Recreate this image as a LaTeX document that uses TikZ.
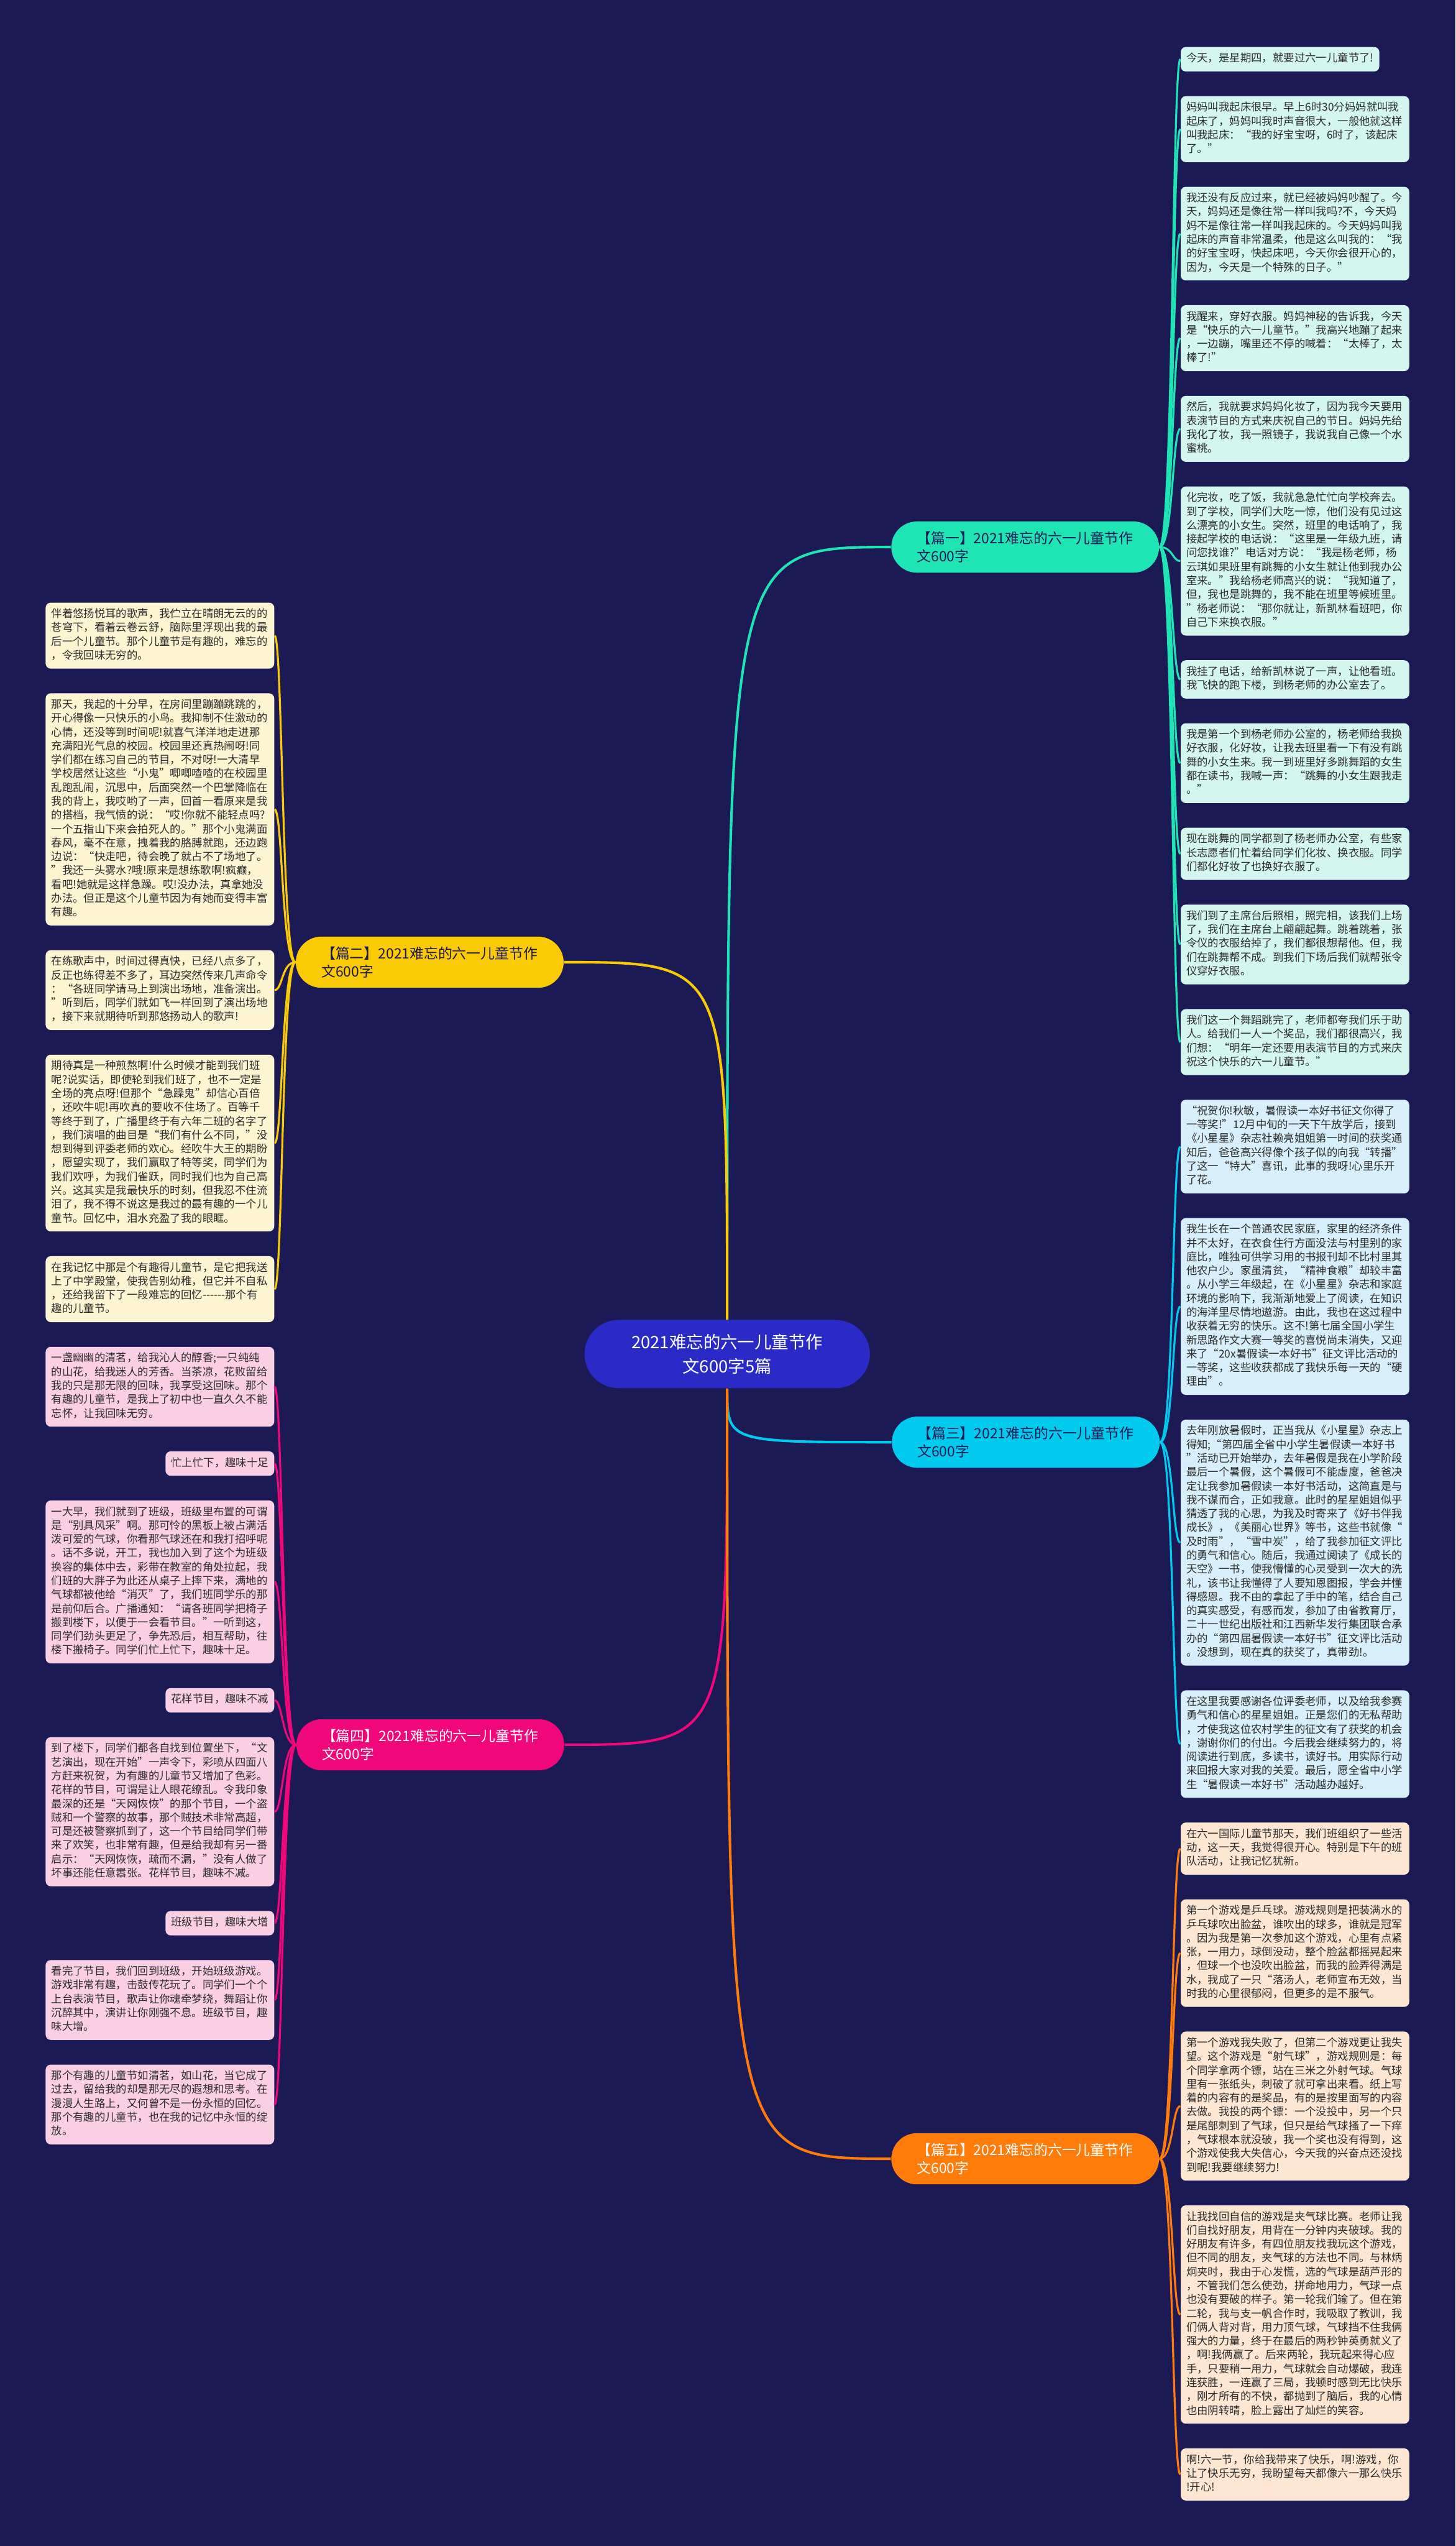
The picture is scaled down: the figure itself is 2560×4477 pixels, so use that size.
\documentclass[tikz,border=0pt]{standalone}
\usepackage{fontspec}
\setmainfont{Noto Sans CJK SC}
\usepackage{tikz}
\usetikzlibrary{positioning,calc}

\definecolor{bgnavy}{HTML}{1B1A55}
\definecolor{rootblue}{HTML}{2A2AC6}
\definecolor{mint}{HTML}{1FE5B5}
\definecolor{gold}{HTML}{FACB05}
\definecolor{sky}{HTML}{00CBEE}
\definecolor{rose}{HTML}{F0077A}
\definecolor{amber}{HTML}{FF7B0A}
\definecolor{mintpale}{HTML}{D3F7EE}
\definecolor{goldpale}{HTML}{FDF5D2}
\definecolor{skypale}{HTML}{D6EFFA}
\definecolor{rosepale}{HTML}{FBCFE3}
\definecolor{amberpale}{HTML}{FDE7D3}
\definecolor{leaftext}{HTML}{2B2B2B}
\definecolor{darktext}{HTML}{1B1A55}

\newcommand{\leaffont}{\fontsize{5.41pt}{6.93pt}\selectfont}
\newcommand{\topicfont}{\fontsize{7.11pt}{9.10pt}\selectfont}
\newcommand{\centrefont}{\fontsize{8.54pt}{11.95pt}\selectfont}

\begin{document}
\begin{tikzpicture}[
  x=0.1mm, y=-0.1mm,
  node distance=4.2mm,
  leaf/.style={rounded corners=0.9mm, text=leaftext, font=\leaffont, inner xsep=1mm, inner ysep=0.93mm,
    execute at begin node=\strut, execute at end node=\strut},
  note/.style={leaf, text width=38.2mm, align=left},
  topic/.style={rounded corners=4.5mm, minimum height=9mm, text width=38.1mm, inner xsep=4.5mm, align=left, font=\topicfont},
  centre/.style={rounded corners=6mm, minimum width=50.2mm, minimum height=12mm, align=center, font=\centrefont, fill=rootblue, text=white},
  link/.style={line width=0.35mm},
  trunk/.style={line width=0.45mm}
]
\fill[bgnavy] (0,0) rectangle (2560,4477);
\useasboundingbox (0,0) rectangle (2560,4477);

\node[centre] (root) at (1279,2381) {2021难忘的六一儿童节作\\文600字5篇};

\node[topic, fill=mint, text=darktext, anchor=west] (t1) at (1567,962) {【篇一】2021难忘的六一儿童节作\\文600字};
\node[topic, fill=gold, text=darktext, anchor=east] (t2) at (992,1692) {【篇二】2021难忘的六一儿童节作\\文600字};
\node[topic, fill=sky, text=darktext, anchor=west] (t3) at (1568,2536) {【篇三】2021难忘的六一儿童节作\\文600字};
\node[topic, fill=rose, text=white, anchor=east] (t4) at (993,3068) {【篇四】2021难忘的六一儿童节作\\文600字};
\node[topic, fill=amber, text=white, anchor=west] (t5) at (1567,3796) {【篇五】2021难忘的六一儿童节作\\文600字};

\node[leaf, fill=mintpale, anchor=north west] (a1) at (2076,82) {今天，是星期四，就要过六一儿童节了!};
\node[note, fill=mintpale, below=of a1.south west, anchor=north west] (a2) {妈妈叫我起床很早。早上6时30分妈妈就叫我\\起床了，妈妈叫我时声音很大，一般他就这样\\叫我起床：“我的好宝宝呀，6时了，该起床\\了。”};
\node[note, fill=mintpale, below=of a2.south west, anchor=north west] (a3) {我还没有反应过来，就已经被妈妈吵醒了。今\\天，妈妈还是像往常一样叫我吗?不，今天妈\\妈不是像往常一样叫我起床的。今天妈妈叫我\\起床的声音非常温柔，他是这么叫我的：“我\\的好宝宝呀，快起床吧，今天你会很开心的，\\因为，今天是一个特殊的日子。”};
\node[note, fill=mintpale, below=of a3.south west, anchor=north west] (a4) {我醒来，穿好衣服。妈妈神秘的告诉我，今天\\是“快乐的六一儿童节。”我高兴地蹦了起来\\，一边蹦，嘴里还不停的喊着：“太棒了，太\\棒了!”};
\node[note, fill=mintpale, below=of a4.south west, anchor=north west] (a5) {然后，我就要求妈妈化妆了，因为我今天要用\\表演节目的方式来庆祝自己的节日。妈妈先给\\我化了妆，我一照镜子，我说我自己像一个水\\蜜桃。};
\node[note, fill=mintpale, below=of a5.south west, anchor=north west] (a6) {化完妆，吃了饭，我就急急忙忙向学校奔去。\\到了学校，同学们大吃一惊，他们没有见过这\\么漂亮的小女生。突然，班里的电话响了，我\\接起学校的电话说：“这里是一年级九班，请\\问您找谁?”电话对方说：“我是杨老师，杨\\云琪如果班里有跳舞的小女生就让他到我办公\\室来。”我给杨老师高兴的说：“我知道了，\\但，我也是跳舞的，我不能在班里等候班里。\\”杨老师说：“那你就让，新凯林看班吧，你\\自己下来换衣服。”};
\node[note, fill=mintpale, below=of a6.south west, anchor=north west] (a7) {我挂了电话，给新凯林说了一声，让他看班。\\我飞快的跑下楼，到杨老师的办公室去了。};
\node[note, fill=mintpale, below=of a7.south west, anchor=north west] (a8) {我是第一个到杨老师办公室的，杨老师给我换\\好衣服，化好妆，让我去班里看一下有没有跳\\舞的小女生来。我一到班里好多跳舞蹈的女生\\都在读书，我喊一声：“跳舞的小女生跟我走\\。”};
\node[note, fill=mintpale, below=of a8.south west, anchor=north west] (a9) {现在跳舞的同学都到了杨老师办公室，有些家\\长志愿者们忙着给同学们化妆、换衣服。同学\\们都化好妆了也换好衣服了。};
\node[note, fill=mintpale, below=of a9.south west, anchor=north west] (a10) {我们到了主席台后照相，照完相，该我们上场\\了，我们在主席台上翩翩起舞。跳着跳着，张\\令仪的衣服给掉了，我们都很想帮他。但，我\\们在跳舞帮不成。到我们下场后我们就帮张令\\仪穿好衣服。};
\node[note, fill=mintpale, below=of a10.south west, anchor=north west] (a11) {我们这一个舞蹈跳完了，老师都夸我们乐于助\\人。给我们一人一个奖品，我们都很高兴，我\\们想：“明年一定还要用表演节目的方式来庆\\祝这个快乐的六一儿童节。”};

\node[note, fill=skypale, below=of a11.south west, anchor=north west] (c1) {“祝贺你!秋敏，暑假读一本好书征文你得了\\一等奖!”12月中旬的一天下午放学后，接到\\《小星星》杂志社赖亮姐姐第一时间的获奖通\\知后，爸爸高兴得像个孩子似的向我“转播”\\了这一“特大”喜讯，此事的我呀!心里乐开\\了花。};
\node[note, fill=skypale, below=of c1.south west, anchor=north west] (c2) {我生长在一个普通农民家庭，家里的经济条件\\并不太好，在衣食住行方面没法与村里别的家\\庭比，唯独可供学习用的书报刊却不比村里其\\他农户少。家虽清贫，“精神食粮”却较丰富\\。从小学三年级起，在《小星星》杂志和家庭\\环境的影响下，我渐渐地爱上了阅读，在知识\\的海洋里尽情地遨游。由此，我也在这过程中\\收获着无穷的快乐。这不!第七届全国小学生\\新思路作文大赛一等奖的喜悦尚未消失，又迎\\来了“20x暑假读一本好书”征文评比活动的\\一等奖，这些收获都成了我快乐每一天的“硬\\理由”。};
\node[note, fill=skypale, below=of c2.south west, anchor=north west] (c3) {去年刚放暑假时，正当我从《小星星》杂志上\\得知;“第四届全省中小学生暑假读一本好书\\”活动已开始举办，去年暑假是我在小学阶段\\最后一个暑假，这个暑假可不能虚度，爸爸决\\定让我参加暑假读一本好书活动，这简直是与\\我不谋而合，正如我意。此时的星星姐姐似乎\\猜透了我的心思，为我及时寄来了《好书伴我\\成长》，《美丽心世界》等书，这些书就像“\\及时雨”，“雪中炭”，给了我参加征文评比\\的勇气和信心。随后，我通过阅读了《成长的\\天空》一书，使我懵懂的心灵受到一次大的洗\\礼，该书让我懂得了人要知恩图报，学会并懂\\得感恩。我不由的拿起了手中的笔，结合自己\\的真实感受，有感而发，参加了由省教育厅，\\二十一世纪出版社和江西新华发行集团联合承\\办的“第四届暑假读一本好书”征文评比活动\\。没想到，现在真的获奖了，真带劲!。};
\node[note, fill=skypale, below=of c3.south west, anchor=north west] (c4) {在这里我要感谢各位评委老师，以及给我参赛\\勇气和信心的星星姐姐。正是您们的无私帮助\\，才使我这位农村学生的征文有了获奖的机会\\，谢谢你们的付出。今后我会继续努力的，将\\阅读进行到底，多读书，读好书。用实际行动\\来回报大家对我的关爱。最后，愿全省中小学\\生“暑假读一本好书”活动越办越好。};

\node[note, fill=amberpale, below=of c4.south west, anchor=north west] (e1) {在六一国际儿童节那天，我们班组织了一些活\\动，这一天，我觉得很开心。特别是下午的班\\队活动，让我记忆犹新。};
\node[note, fill=amberpale, below=of e1.south west, anchor=north west] (e2) {第一个游戏是乒乓球。游戏规则是把装满水的\\乒乓球吹出脸盆，谁吹出的球多，谁就是冠军\\。因为我是第一次参加这个游戏，心里有点紧\\张，一用力，球倒没动，整个脸盆都摇晃起来\\，但球一个也没吹出脸盆，而我的脸弄得满是\\水，我成了一只“落汤人，老师宣布无效，当\\时我的心里很郁闷，但更多的是不服气。};
\node[note, fill=amberpale, below=of e2.south west, anchor=north west] (e3) {第一个游戏我失败了，但第二个游戏更让我失\\望。这个游戏是“射气球”，游戏规则是：每\\个同学拿两个镖，站在三米之外射气球。气球\\里有一张纸头，刺破了就可拿出来看。纸上写\\着的内容有的是奖品，有的是按里面写的内容\\去做。我投的两个镖：一个没投中，另一个只\\是尾部刺到了气球，但只是给气球搔了一下痒\\，气球根本就没破，我一个奖也没有得到，这\\个游戏使我大失信心，今天我的兴奋点还没找\\到呢!我要继续努力!};
\node[note, fill=amberpale, below=of e3.south west, anchor=north west] (e4) {让我找回自信的游戏是夹气球比赛。老师让我\\们自找好朋友，用背在一分钟内夹破球。我的\\好朋友有许多，有四位朋友找我玩这个游戏，\\但不同的朋友，夹气球的方法也不同。与林炳\\炯夹时，我由于心发慌，选的气球是葫芦形的\\，不管我们怎么使劲，拼命地用力，气球一点\\也没有要破的样子。第一轮我们输了。但在第\\二轮，我与支一帆合作时，我吸取了教训，我\\们俩人背对背，用力顶气球，气球挡不住我俩\\强大的力量，终于在最后的两秒钟英勇就义了\\，啊!我俩赢了。后来两轮，我玩起来得心应\\手，只要稍一用力，气球就会自动爆破，我连\\连获胜，一连赢了三局，我顿时感到无比快乐\\，刚才所有的不快，都抛到了脑后，我的心情\\也由阴转晴，脸上露出了灿烂的笑容。};
\node[note, fill=amberpale, below=of e4.south west, anchor=north west] (e5) {啊!六一节，你给我带来了快乐，啊!游戏，你\\让了快乐无穷，我盼望每天都像六一那么快乐\\!开心!};

\node[note, fill=goldpale, anchor=north east] (b1) at (483,1059) {伴着悠扬悦耳的歌声，我伫立在晴朗无云的的\\苍穹下，看着云卷云舒，脑际里浮现出我的最\\后一个儿童节。那个儿童节是有趣的，难忘的\\，令我回味无穷的。};
\node[note, fill=goldpale, below=of b1.south east, anchor=north east] (b2) {那天，我起的十分早，在房间里蹦蹦跳跳的，\\开心得像一只快乐的小鸟。我抑制不住激动的\\心情，还没等到时间呢!就喜气洋洋地走进那\\充满阳光气息的校园。校园里还真热闹呀!同\\学们都在练习自己的节目，不对呀!一大清早\\学校居然让这些“小鬼”唧唧喳喳的在校园里\\乱跑乱闹，沉思中，后面突然一个巴掌降临在\\我的背上，我哎哟了一声，回首一看原来是我\\的搭档，我气愤的说：“哎!你就不能轻点吗?\\一个五指山下来会拍死人的。”那个小鬼满面\\春风，毫不在意，拽着我的胳膊就跑，还边跑\\边说：“快走吧，待会晚了就占不了场地了。\\”我还一头雾水?哦!原来是想练歌啊!疯癫，\\看吧!她就是这样急躁。哎!没办法，真拿她没\\办法。但正是这个儿童节因为有她而变得丰富\\有趣。};
\node[note, fill=goldpale, below=of b2.south east, anchor=north east] (b3) {在练歌声中，时间过得真快，已经八点多了，\\反正也练得差不多了，耳边突然传来几声命令\\：“各班同学请马上到演出场地，准备演出。\\”听到后，同学们就如飞一样回到了演出场地\\，接下来就期待听到那悠扬动人的歌声!};
\node[note, fill=goldpale, below=of b3.south east, anchor=north east] (b4) {期待真是一种煎熬啊!什么时候才能到我们班\\呢?说实话，即使轮到我们班了，也不一定是\\全场的亮点呀!但那个“急躁鬼”却信心百倍\\，还吹牛呢!再吹真的要收不住场了。百等千\\等终于到了，广播里终于有六年二班的名字了\\，我们演唱的曲目是“我们有什么不同，”没\\想到得到评委老师的欢心。经吹牛大王的期盼\\，愿望实现了，我们赢取了特等奖，同学们为\\我们欢呼，为我们雀跃，同时我们也为自己高\\兴。这其实是我最快乐的时刻，但我忍不住流\\泪了，我不得不说这是我过的最有趣的一个儿\\童节。回忆中，泪水充盈了我的眼眶。};
\node[note, fill=goldpale, below=of b4.south east, anchor=north east] (b5) {在我记忆中那是个有趣得儿童节，是它把我送\\上了中学殿堂，使我告别幼稚，但它并不自私\\，还给我留下了一段难忘的回忆-{}-{}-{}-{}-{}-那个有\\趣的儿童节。};

\node[note, fill=rosepale, below=of b5.south east, anchor=north east] (d1) {一盏幽幽的清茗，给我沁人的醇香;一只纯纯\\的山花，给我迷人的芳香。当茶凉，花败留给\\我的只是那无限的回味，我享受这回味。那个\\有趣的儿童节，是我上了初中也一直久久不能\\忘怀，让我回味无穷。};
\node[leaf, fill=rosepale, below=of d1.south east, anchor=north east] (d2) {忙上忙下，趣味十足};
\node[note, fill=rosepale, below=of d2.south east, anchor=north east] (d3) {一大早，我们就到了班级，班级里布置的可谓\\是“别具风采”啊。那可怜的黑板上被占满活\\泼可爱的气球，你看那气球还在和我打招呼呢\\。话不多说，开工，我也加入到了这个为班级\\换容的集体中去，彩带在教室的角处拉起，我\\们班的大胖子为此还从桌子上摔下来，满地的\\气球都被他给“消灭”了，我们班同学乐的那\\是前仰后合。广播通知：“请各班同学把椅子\\搬到楼下，以便于一会看节目。”一听到这，\\同学们劲头更足了，争先恐后，相互帮助，往\\楼下搬椅子。同学们忙上忙下，趣味十足。};
\node[leaf, fill=rosepale, below=of d3.south east, anchor=north east] (d4) {花样节目，趣味不减};
\node[note, fill=rosepale, below=of d4.south east, anchor=north east] (d5) {到了楼下，同学们都各自找到位置坐下，“文\\艺演出，现在开始”一声令下，彩喷从四面八\\方赶来祝贺，为有趣的儿童节又增加了色彩。\\花样的节目，可谓是让人眼花缭乱。令我印象\\最深的还是“天网恢恢”的那个节目，一个盗\\贼和一个警察的故事，那个贼技术非常高超，\\可是还被警察抓到了，这一个节目给同学们带\\来了欢笑，也非常有趣，但是给我却有另一番\\启示：“天网恢恢，疏而不漏，”没有人做了\\坏事还能任意嚣张。花样节目，趣味不减。};
\node[leaf, fill=rosepale, below=of d5.south east, anchor=north east] (d6) {班级节目，趣味大增};
\node[note, fill=rosepale, below=of d6.south east, anchor=north east] (d7) {看完了节目，我们回到班级，开始班级游戏。\\游戏非常有趣，击鼓传花玩了。同学们一个个\\上台表演节目，歌声让你魂牵梦绕，舞蹈让你\\沉醉其中，演讲让你刚强不息。班级节目，趣\\味大增。};
\node[note, fill=rosepale, below=of d7.south east, anchor=north east] (d8) {那个有趣的儿童节如清茗，如山花，当它成了\\过去，留给我的却是那无尽的遐想和思考。在\\漫漫人生路上，又何曾不是一份永恒的回忆。\\那个有趣的儿童节，也在我的记忆中永恒的绽\\放。};

\draw[trunk, mint] (root.north) .. controls (root.north |- t1.west) .. (t1.west);
\draw[trunk, gold] (root.north) .. controls (root.north |- t2.east) .. (t2.east);
\draw[trunk, sky] (root.south) .. controls (root.south |- t3.west) .. (t3.west);
\draw[trunk, rose] (root.south) .. controls (root.south |- t4.east) .. (t4.east);
\draw[trunk, amber] (root.south) .. controls (root.south |- t5.west) .. (t5.west);

\foreach \i in {1,...,11}
  \draw[link, mint] (t1.east) .. controls +(24,0) and +(-14,0) .. (a\i.west);
\foreach \i in {1,...,4}
  \draw[link, sky] (t3.east) .. controls +(24,0) and +(-14,0) .. (c\i.west);
\foreach \i in {1,...,5}
  \draw[link, amber] (t5.east) .. controls +(24,0) and +(-14,0) .. (e\i.west);
\foreach \i in {1,...,5}
  \draw[link, gold] (t2.west) .. controls +(-24,0) and +(14,0) .. (b\i.east);
\foreach \i in {1,...,8}
  \draw[link, rose] (t4.west) .. controls +(-24,0) and +(14,0) .. (d\i.east);
\end{tikzpicture}
\end{document}
